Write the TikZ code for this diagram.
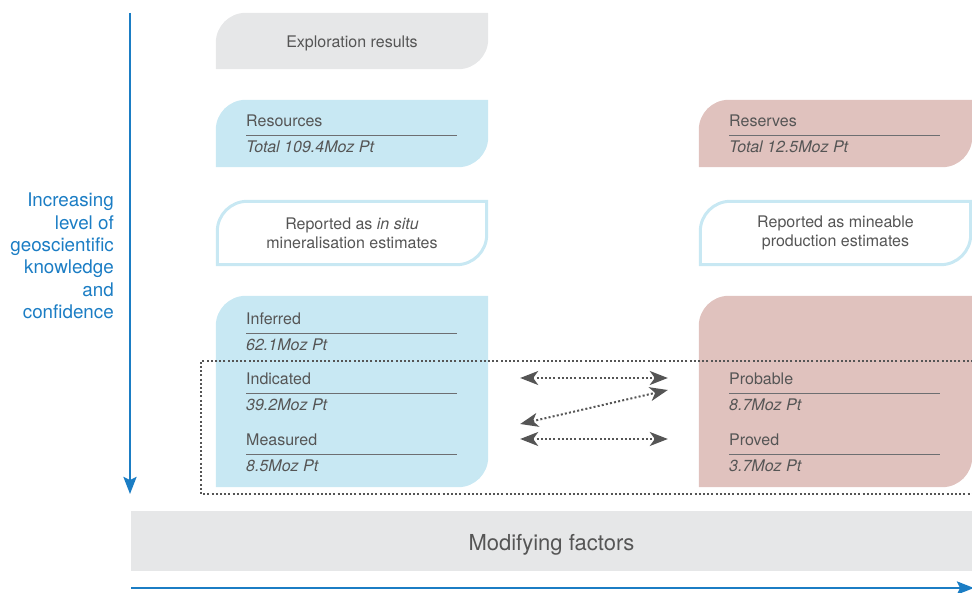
\documentclass[tikz,border=0pt]{standalone}
\usepackage{fontspec}
\setmainfont{TeX Gyre Heros}
\usepackage{xcolor}
\usepackage{tikz}
\usetikzlibrary{arrows.meta, positioning, backgrounds}

\definecolor{resblue}{HTML}{C8E8F3}
\definecolor{resrose}{HTML}{E0C2BE}
\definecolor{expgray}{HTML}{E6E7E8}
\definecolor{txtgray}{HTML}{555555}
\definecolor{rulegray}{HTML}{6D6E71}
\definecolor{keyblue}{HTML}{1B7DC4}

% leaf outline: rounded top left and bottom right corners only
\newcommand{\leafpath}[1]{(#1.south west) -- ([yshift=-30pt]#1.north west)
  arc[start angle=180, end angle=90, radius=30pt] -- (#1.north east)
  -- ([yshift=30pt]#1.south east) arc[start angle=0, end angle=-90, radius=30pt] -- cycle}

\begin{document}
\begin{tikzpicture}[
    x=1pt, y=1pt,
    box/.style={
        rectangle, inner sep=0pt, align=center,
        minimum width=272pt, text=txtgray,
        font=\fontsize{16}{19}\selectfont
    },
    heading/.style={
        anchor=west, inner xsep=0pt, inner ysep=5.5pt,
        text width=211pt, align=left, text height=11pt, text depth=3pt,
        text=txtgray, font=\fontsize{16}{19}\selectfont
    },
    value/.style={
        anchor=north west, inner xsep=0pt, inner ysep=6pt,
        text height=11pt, text depth=3pt,
        text=txtgray, font=\fontsize{16}{19}\selectfont\itshape
    },
    rule/.style={rulegray, line width=1.1pt},
    dots/.style={txtgray, line width=2pt, dash pattern=on 2pt off 2.2pt},
    link/.style={
        dots,
        {Stealth[length=18pt, width=14pt, inset=5pt]}-{Stealth[length=18pt, width=14pt, inset=5pt]}
    },
    axis/.style={keyblue, line width=2.6pt, -{Stealth[length=17pt, width=13pt, inset=3pt]}}
]
\useasboundingbox (0,0) rectangle (972,592);

% --- Left column: exploration, resources, reporting note, resource classes
\node (expl) [box, minimum height=56pt, text height=13.6pt, text depth=0pt] at (352,551) {Exploration results};
\node (res)  [box, minimum height=67pt]  at (352,458.5) {};
\node (repl) [box, minimum width=269pt, minimum height=63pt] at (352,359)
    {Reported as \textit{in situ}\\mineralisation estimates};
\node (inf)  [box, minimum height=191pt] at (352,200.5) {};

% --- Right column: reserves, reporting note, reserve classes
\node (rsv)  [box, minimum width=273pt, minimum height=67pt]  at (835.5,458.5) {};
\node (repr) [box, minimum width=270pt, minimum height=63pt]  at (835.5,359)
    {Reported as mineable\\production estimates};
\node (pr)   [box, minimum width=273pt, minimum height=191pt] at (835.5,200.5) {};

% --- Bottom bar
\node (mod) [rectangle, fill=expgray, minimum width=841pt, minimum height=60pt,
    text height=18pt, text depth=0pt,
    text=txtgray, font=\fontsize{22}{26}\selectfont] at (551.5,51) {Modifying factors};

% --- Box backgrounds
\begin{scope}[on background layer]
\fill[expgray] \leafpath{expl};
\fill[resblue] \leafpath{res};
\fill[resblue] \leafpath{inf};
\fill[resrose] \leafpath{rsv};
\fill[resrose] \leafpath{pr};
\draw[resblue, line width=3pt] \leafpath{repl};
\draw[resblue, line width=3pt] \leafpath{repr};
\end{scope}

% --- Headings and totals
\node (resh) [heading] at (246,469) {Resources};
\node (resv) [value] at (resh.south west) {Total 109.4Moz Pt};
\node (rsvh) [heading] at (729,469) {Reserves};
\node (rsvv) [value] at (rsvh.south west) {Total 12.5Moz Pt};

\node (infh) [heading] at (246,271) {Inferred};
\node (infv) [value] at (infh.south west) {62.1Moz Pt};
\node (indh) [heading] at (246,211) {Indicated};
\node (indv) [value] at (indh.south west) {39.2Moz Pt};
\node (meah) [heading] at (246,150) {Measured};
\node (meav) [value] at (meah.south west) {8.5Moz Pt};

\node (prbh) [heading] at (729,211) {Probable};
\node (prbv) [value] at (prbh.south west) {8.7Moz Pt};
\node (prvh) [heading] at (729,150) {Proved};
\node (prvv) [value] at (prvh.south west) {3.7Moz Pt};

\foreach \n in {resh, rsvh, infh, indh, meah, prbh, prvh}
    \draw[rule] (\n.south west) -- (\n.south east);

% --- Dotted frame round the reportable classes
\draw[dots] (973,231) -- (201,231) -- (201,98) -- (973,98);

% --- Conversion arrows
\draw[link] ([xshift=32pt,yshift=3pt]inf.east |- indh.west) -- ([xshift=-31pt,yshift=3pt]pr.west |- prbh.west);
\draw[link] ([xshift=32pt,yshift=18pt]inf.east |- meah.west) -- ([xshift=-31pt,yshift=-9pt]pr.west |- prbh.west);
\draw[link] ([xshift=32pt,yshift=3pt]inf.east |- meah.west) -- ([xshift=-31pt,yshift=3pt]pr.west |- prvh.west);

% --- Axes
\coordinate (ktop) at (130,579);
\coordinate (kbot) at (130,98);
\coordinate (mleft) at (131,4);
\coordinate (mright) at (974,4);
\draw[axis] (ktop) -- (kbot);
\draw[axis] (mleft) -- (mright);

\node (know) [anchor=east, align=right, inner sep=0pt, text=keyblue,
    font=\fontsize{18.8}{22.4}\selectfont] at (114,336)
    {Increasing\\level of\\geoscientific\\knowledge\\and\\confidence};

\end{tikzpicture}
\end{document}
